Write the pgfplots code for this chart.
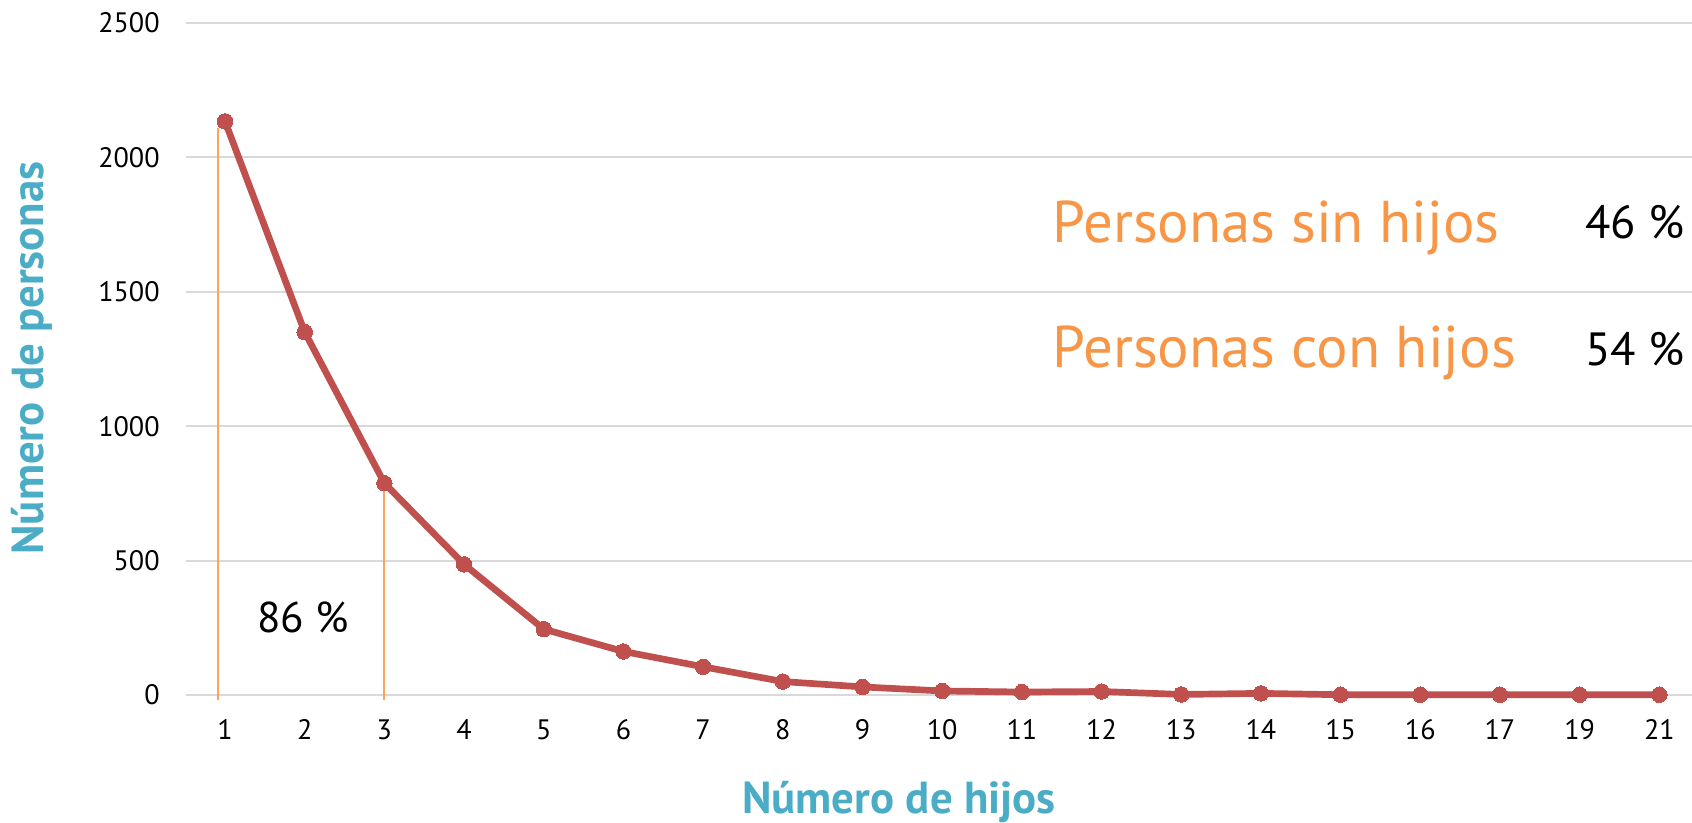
\documentclass[border=0pt]{standalone}
\usepackage{pgfplots}
\pgfplotsset{compat=1.18}
\usepackage{fontspec}
\setmainfont{PT Sans}

\definecolor{linered}{HTML}{C0504D}
\definecolor{txtorange}{HTML}{F79646}
\definecolor{lnorange}{HTML}{F9A65A}
\definecolor{titlecyan}{HTML}{4BACC6}
\definecolor{gridgray}{HTML}{D9D9D9}

\begin{document}
\begin{tikzpicture}
  % page = 1692 x 823 px at 0.2 mm per px, axis box at (186,695) px
  \path[use as bounding box] (-37.2mm,-25.6mm) rectangle (301.2mm,139mm);
  \begin{axis}[
      scale only axis, width=301.2mm, height=134.4mm,
      xmin=-0.49, xmax=18.41, ymin=0, ymax=2500,
      clip=false,
      axis line style={draw=none},
      major tick style={draw=none},
      ymajorgrids, grid style={gridgray, line width=1.1pt},
      ytick={0,500,1000,1500,2000,2500},
      xtick={0,...,18},
      xticklabels={1,2,3,4,5,6,7,8,9,10,11,12,13,14,15,16,17,19,21},
      /pgf/number format/1000 sep={},
      /pgf/number format/assume math mode=true,
      tick label style={font=\fontsize{16}{18}\selectfont, inner sep=0pt},
      yticklabel style={xshift=-5.2mm},
      xticklabel style={yshift=-4.8mm},
      xlabel={Número de hijos},
      ylabel={Número de personas},
      label style={font=\fontsize{25.5}{29}\selectfont\bfseries, text=titlecyan},
      xlabel style={at={(axis description cs:0.4734,-0.1756)}, anchor=base},
      ylabel style={at={(axis description cs:-0.1023,0.5015)}, anchor=center},
    ]
    % orange markers of the 1-3 children range
    \addplot[lnorange, line width=1.1pt] coordinates {(-0.09,-20) (-0.09,2110)};
    \addplot[lnorange, line width=1.1pt] coordinates {(2,-20) (2,770)};

    \addplot[linered, line width=3.8pt, mark=*, mark size=1.55mm,
      mark options={line width=0pt, fill=linered}] coordinates {
      (0,2134) (1,1350) (2,788) (3,486) (4,245) (5,162) (6,105) (7,50)
      (8,30) (9,15) (10,11) (11,13) (12,2) (13,6) (14,1) (15,1) (16,1)
      (17,1) (18,1)
    };

    \node[anchor=base west, inner sep=0pt, font=\fontsize{24.5}{28}\selectfont]
      at (axis description cs:0.0471,0.0923) {86 \%};
    \node[anchor=base west, inner sep=0pt, text=txtorange,
      font=\fontsize{33.5}{37}\selectfont]
      at (axis description cs:0.575,0.6726) {Personas sin hijos};
    \node[anchor=base west, inner sep=0pt, text=txtorange,
      font=\fontsize{33.5}{37}\selectfont]
      at (axis description cs:0.575,0.4866) {Personas con hijos};
    \node[anchor=base east, inner sep=0pt, font=\fontsize{26.5}{30}\selectfont]
      at (axis description cs:0.9954,0.6786) {46 \%};
    \node[anchor=base east, inner sep=0pt, font=\fontsize{26.5}{30}\selectfont]
      at (axis description cs:0.9954,0.491) {54 \%};
  \end{axis}
\end{tikzpicture}
\end{document}
